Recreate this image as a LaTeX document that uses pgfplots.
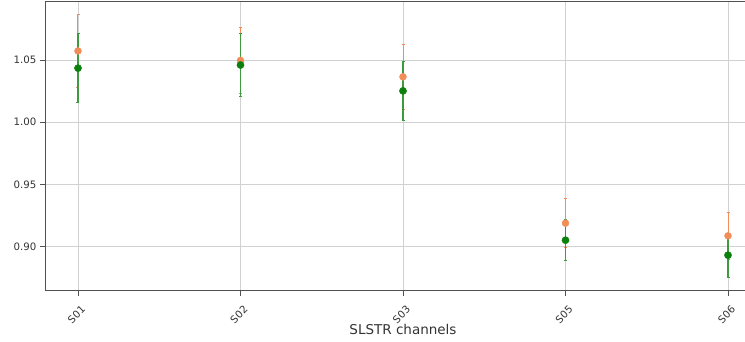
\documentclass[border=0pt]{standalone}
\usepackage{pgfplots}
\pgfplotsset{compat=1.18}
\usepackage{fontspec}
\setmainfont{DejaVu Sans}
\definecolor{myorange}{RGB}{242,141,88}
\definecolor{mygreen}{RGB}{12,128,12}
\definecolor{spine}{RGB}{80,80,80}
\definecolor{gridc}{RGB}{210,210,210}
\begin{document}
\begin{tikzpicture}
\useasboundingbox (-45.5pt,-50.5pt) rectangle (699.5pt,290.5pt);
\begin{scope}
\clip (-45.5pt,-50.5pt) rectangle (699.5pt,290.5pt);
\begin{axis}[
  at={(0pt,0pt)}, anchor=south west,
  scale only axis, width=715pt, height=289pt,
  xmin=-0.2, xmax=4.2, ymin=0.8646, ymax=1.0971,
  xtick={0,1,2,3,4}, xticklabels={S01,S02,S03,S05,S06},
  ytick={0.90,0.95,1.00,1.05},
  /pgf/number format/assume math mode=true,
  yticklabel style={/pgf/number format/fixed, /pgf/number format/fixed zerofill, /pgf/number format/precision=2, anchor=east, inner sep=0pt, xshift=-4pt},
  tick label style={font=\fontsize{10.2}{12}\selectfont, text=black!80},
  xticklabel style={yshift=-19pt, xshift=-1.5pt, rotate=45, anchor=center, inner sep=0pt},
  tick align=outside, major tick length=5pt,
  xtick pos=bottom, ytick pos=left,
  tick style={spine, line width=0.9pt},
  axis line style={spine, line width=1.3pt},
  grid=major, grid style={gridc, line width=0.9pt},
  xlabel={SLSTR channels},
  xlabel style={font=\fontsize{13.5}{15}\selectfont, text=black!80, at={(axis description cs:0.5,0)}, anchor=base, yshift=-44pt},
  clip=false,
]
\addplot[only marks, mark=*, mark size=3.5pt, myorange, mark options={fill=myorange, draw=myorange},
  error bars/.cd, y dir=both, y explicit,
  error bar style={line width=1pt, myorange},
  error mark options={line width=1pt, mark size=1.5pt, myorange, rotate=90}]
coordinates {
  (0,1.0573) +- (0,0.0290)
  (1,1.0497) +- (0,0.0265)
  (2,1.0365) +- (0,0.0260)
  (3,0.9188) +- (0,0.0200)
  (4,0.9086) +- (0,0.0190)
};
\addplot[only marks, mark=*, mark size=3.6pt, mygreen, mark options={fill=mygreen, draw=mygreen},
  error bars/.cd, y dir=both, y explicit,
  error bar style={line width=1.2pt, mygreen!80!white},
  error mark options={line width=1pt, mark size=1.5pt, mygreen!80!white, rotate=90}]
coordinates {
  (0,1.0435) +- (0,0.0277)
  (1,1.0460) +- (0,0.0250)
  (2,1.0252) +- (0,0.0237)
  (3,0.9051) +- (0,0.0166)
  (4,0.8930) +- (0,0.0178)
};
\end{axis}
\end{scope}
\end{tikzpicture}
\end{document}
